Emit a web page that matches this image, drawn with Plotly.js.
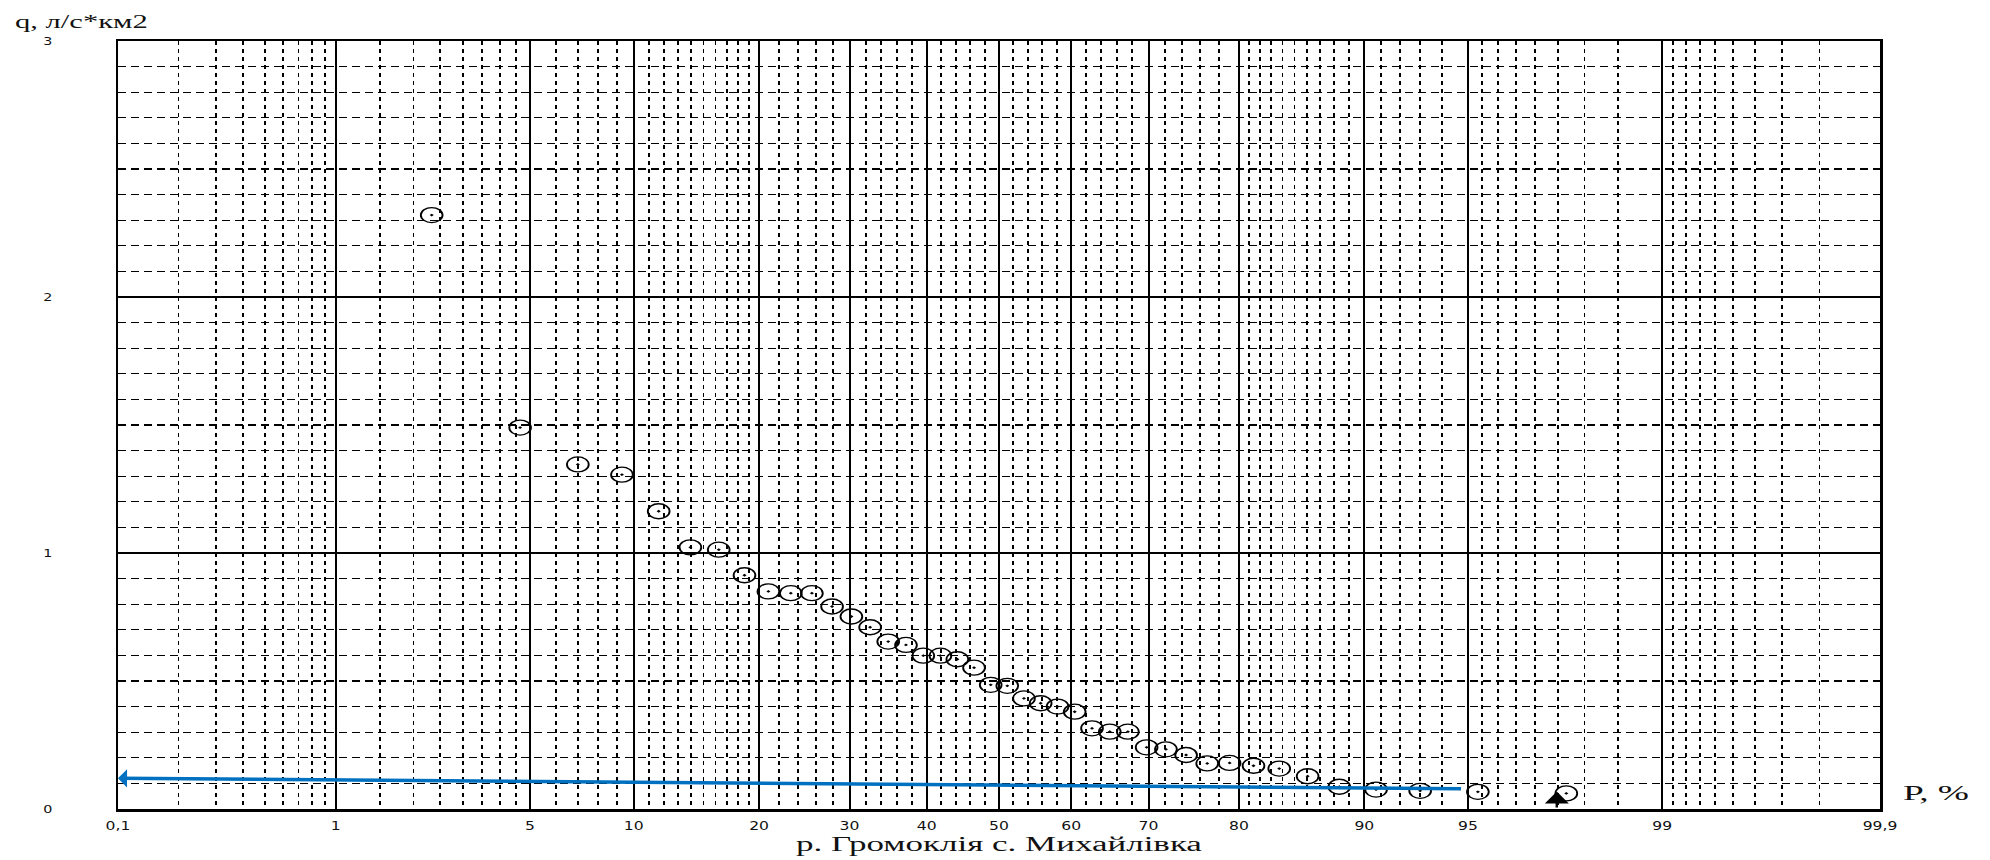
<!DOCTYPE html>
<html>
<head>
<meta charset="utf-8">
<script src="https://cdn.plot.ly/plotly-3.0.1.min.js"></script>
<style>html,body{margin:0;padding:0;background:#fff;}#chart{width:1990px;height:860px;}</style>
</head>
<body>
<div id="chart"></div>
<script>
// ---- data ----
// exceedance probability, %
const probability = [2.33, 4.65, 6.98, 9.30, 11.63, 13.95, 16.28, 18.60, 20.93, 23.26,
  25.58, 27.91, 30.23, 32.56, 34.88, 37.21, 39.53, 41.86, 44.19, 46.51,
  48.84, 51.16, 53.49, 55.81, 58.14, 60.47, 62.79, 65.12, 67.44, 69.77,
  72.09, 74.42, 76.74, 79.07, 81.40, 83.72, 86.05, 88.37, 90.70, 93.02,
  95.35, 97.67];
// specific discharge q, l/s*km2
const discharge = [2.32, 1.49, 1.346, 1.306, 1.163, 1.022, 1.013, 0.913, 0.850, 0.843,
  0.843, 0.791, 0.752, 0.710, 0.654, 0.641, 0.599, 0.599, 0.585, 0.552,
  0.485, 0.481, 0.432, 0.413, 0.400, 0.380, 0.315, 0.302, 0.302, 0.241,
  0.233, 0.211, 0.178, 0.180, 0.169, 0.158, 0.128, 0.087, 0.076, 0.071,
  0.067, 0.061];
// probability-paper grid
const majorProb = [0.1, 1, 5, 10, 20, 30, 40, 50, 60, 70, 80, 90, 95, 99, 99.9];
const majorLabels = ['0,1', '1', '5', '10', '20', '30', '40', '50', '60', '70', '80', '90', '95', '99', '99,9'];
const minorProb = [0.2, 0.3, 0.4, 0.5, 0.6, 0.7, 0.8, 0.9,
  1.5, 2, 2.5, 3, 3.5, 4, 4.5, 6, 7, 8, 9,
  11, 12, 13, 14, 15, 16, 17, 18, 19,
  22, 24, 26, 28, 32, 34, 36, 38, 42, 44, 46, 48,
  52, 54, 56, 58, 62, 64, 66, 68, 72, 74, 76, 78,
  81, 82, 83, 84, 85, 86, 87, 88, 89, 91, 92, 93, 94,
  95.5, 96, 96.5, 97, 97.5, 98, 98.5,
  99.1, 99.2, 99.3, 99.4, 99.5, 99.6, 99.7, 99.8];
const yTicks = [0, 1, 2, 3];
const yMinor = [0.1, 0.2, 0.3, 0.4, 0.5, 0.6, 0.7, 0.8, 0.9,
  1.1, 1.2, 1.3, 1.4, 1.5, 1.6, 1.7, 1.8, 1.9,
  2.1, 2.2, 2.3, 2.4, 2.5, 2.6, 2.7, 2.8, 2.9];
// drawn arrows: [probability %, q]
const blueArrowFrom = [94.8, 0.079];
const blueArrowTo = [0.1, 0.12];
const blackArrowFrom = [97.48, 0];
const blackArrowTo = [97.48, 0.068];

// inverse standard normal CDF (Acklam) -> probability-paper scale
function normInv(p) {
  const a = [-3.969683028665376e+01, 2.209460984245205e+02, -2.759285104469687e+02, 1.383577518672690e+02, -3.066479806614716e+01, 2.506628277459239e+00];
  const b = [-5.447609879822406e+01, 1.615858368580409e+02, -1.556989798598866e+02, 6.680131188771972e+01, -1.328068155288572e+01];
  const c = [-7.784894002430293e-03, -3.223964580411365e-01, -2.400758277161838e+00, -2.549732539343734e+00, 4.374664141464968e+00, 2.938163982698783e+00];
  const d = [7.784695709041462e-03, 3.224671290700398e-01, 2.445134137142996e+00, 3.754408661907416e+00];
  const pl = 0.02425, ph = 1 - pl;
  let q, r;
  if (p < pl) { q = Math.sqrt(-2 * Math.log(p));
    return (((((c[0]*q+c[1])*q+c[2])*q+c[3])*q+c[4])*q+c[5]) / ((((d[0]*q+d[1])*q+d[2])*q+d[3])*q+1); }
  if (p <= ph) { q = p - 0.5; r = q*q;
    return (((((a[0]*r+a[1])*r+a[2])*r+a[3])*r+a[4])*r+a[5])*q / (((((b[0]*r+b[1])*r+b[2])*r+b[3])*r+b[4])*r+1); }
  q = Math.sqrt(-2 * Math.log(1 - p));
  return -(((((c[0]*q+c[1])*q+c[2])*q+c[3])*q+c[4])*q+c[5]) / ((((d[0]*q+d[1])*q+d[2])*q+d[3])*q+1);
}
const pz = p => normInv(p / 100);

const trace = {
  x: probability.map(pz),
  y: discharge,
  customdata: probability,
  type: 'scatter',
  mode: 'markers',
  marker: { symbol: 'circle-open-dot', size: 15, color: '#000', line: { width: 1.3, color: '#000' } },
  hovertemplate: 'P=%{customdata}%<br>q=%{y}<extra></extra>',
  showlegend: false
};

const serif = 'Liberation Serif, Times New Roman, serif';
const layout = {
  width: 1990, height: 860,
  margin: { l: 118, r: 110, t: 41, b: 51 },
  paper_bgcolor: '#fff', plot_bgcolor: '#fff',
  showlegend: false,
  xaxis: {
    range: [pz(0.1), pz(99.9)],
    tickmode: 'array', tickvals: majorProb.map(pz), ticktext: majorLabels,
    showgrid: true, gridcolor: '#000', gridwidth: 2,
    zeroline: false, showline: true, linecolor: '#000', linewidth: 2.5, mirror: true,
    ticks: '', ticklabelstandoff: 4,
    tickfont: { family: 'DejaVu Sans, sans-serif', size: 12, color: '#111' },
    minor: { tickmode: 'array', tickvals: minorProb.map(pz), showgrid: true, gridcolor: '#000', gridwidth: 1.9, griddash: '4px,4px', ticks: '' },
    title: { text: 'р. Громоклія с. Михайлівка', font: { family: serif, size: 20, color: '#111' }, standoff: 4 },
    fixedrange: true
  },
  yaxis: {
    range: [0, 3],
    tickmode: 'array', tickvals: yTicks, ticktext: yTicks.map(String),
    showgrid: true, gridcolor: '#000', gridwidth: 1.6,
    zeroline: false, showline: true, linecolor: '#000', linewidth: 2.5, mirror: true,
    ticks: '', ticklabelstandoff: 62,
    tickfont: { family: 'DejaVu Sans, sans-serif', size: 11, color: '#111' },
    minor: { tickmode: 'array', tickvals: yMinor, showgrid: true, gridcolor: '#000', gridwidth: 1.2, griddash: '8px,5px', ticks: '' },
    fixedrange: true
  },
  annotations: [
    { xref: 'paper', yref: 'paper', x: -0.0596, y: 1.0247, xanchor: 'left', yanchor: 'middle',
      text: 'q, л/с*км2', showarrow: false, font: { family: serif, size: 18, color: '#111' } },
    { xref: 'paper', yref: 'paper', x: 1.0119, y: 0.0221, xanchor: 'left', yanchor: 'middle',
      text: 'Р, %', showarrow: false, font: { family: serif, size: 22, color: '#111' } },
    { xref: 'x', yref: 'y', axref: 'x', ayref: 'y',
      x: pz(blueArrowTo[0]), y: blueArrowTo[1], ax: pz(blueArrowFrom[0]), ay: blueArrowFrom[1],
      text: '', showarrow: true, arrowhead: 1, arrowsize: 0.86, arrowwidth: 3.5, arrowcolor: '#0070C0', standoff: 0, startstandoff: 0 },
    { xref: 'x', yref: 'y', axref: 'x', ayref: 'y',
      x: pz(blackArrowTo[0]), y: blackArrowTo[1], ax: pz(blackArrowFrom[0]), ay: blackArrowFrom[1],
      text: '', showarrow: true, arrowhead: 1, arrowsize: 1.6, arrowwidth: 2.5, arrowcolor: '#000', standoff: 0, startstandoff: 0 }
  ]
};

function stretch(el, sx, anchor) {
  const bb = el.getBBox();
  if (!bb.width) return;
  const cx = anchor === 'left' ? bb.x : bb.x + bb.width / 2;
  const prev = el.getAttribute('transform') || '';
  el.setAttribute('transform', prev + ' translate(' + cx + ',0) scale(' + sx + ',1) translate(' + (-cx) + ',0)');
}

Plotly.newPlot('chart', [trace], layout, { staticPlot: true, displayModeBar: false }).then(gd => {
  // the reference chart is horizontally stretched: mimic that on texts and markers
  gd.querySelectorAll('.xtick text, .ytick text').forEach(t => stretch(t, 1.3, 'center'));
  gd.querySelectorAll('.g-xtitle text').forEach(t => stretch(t, 1.75, 'center'));
  gd.querySelectorAll('.annotation-text').forEach(t => stretch(t, 1.7, 'left'));
  gd.querySelectorAll('.scatterlayer path.point').forEach(p => {
    p.setAttribute('transform', (p.getAttribute('transform') || '') + ' scale(1.45,1)');
  });
});
</script>
</body>
</html>
